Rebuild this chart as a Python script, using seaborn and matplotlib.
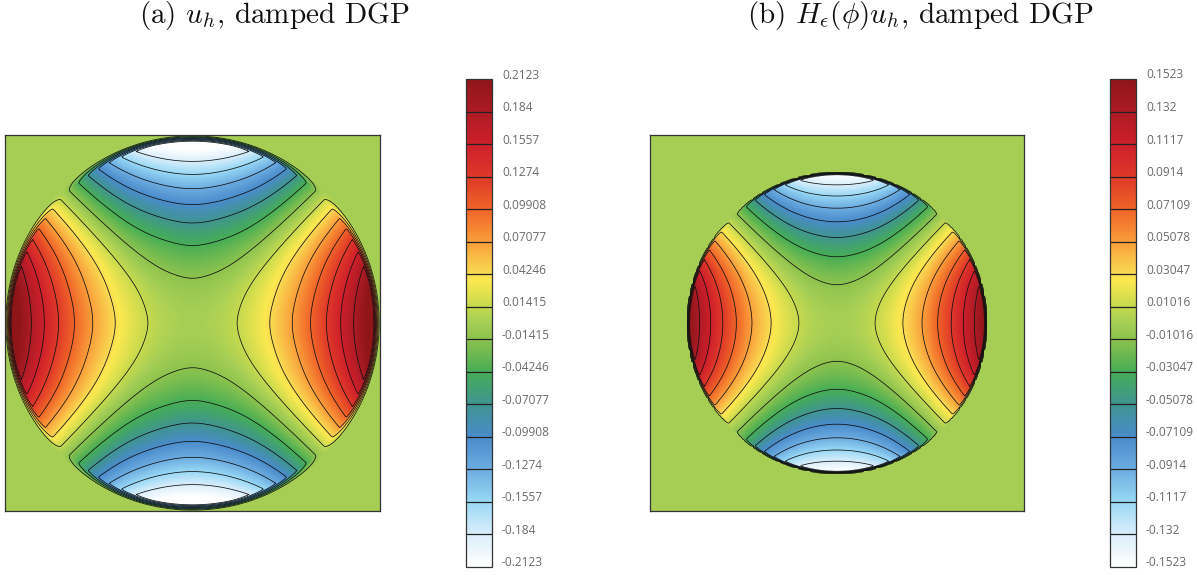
import numpy as np
import pandas as pd
import matplotlib
matplotlib.use("Agg")
import matplotlib.pyplot as plt
from matplotlib.colors import LinearSegmentedColormap
import seaborn as sns

# ---- chart text ----
title_a = r"(a) $u_h$, damped DGP"
title_b = r"(b) $H_\epsilon(\phi)u_h$, damped DGP"

# ---- colour bar labels ----
labels_a = ["0.2123", "0.184", "0.1557", "0.1274", "0.09908", "0.07077", "0.04246", "0.01415",
            "-0.01415", "-0.04246", "-0.07077", "-0.09908", "-0.1274", "-0.1557", "-0.184", "-0.2123"]
labels_b = ["0.1523", "0.132", "0.1117", "0.0914", "0.07109", "0.05078", "0.03047", "0.01016",
            "-0.01016", "-0.03047", "-0.05078", "-0.07109", "-0.0914", "-0.1117", "-0.132", "-0.1523"]

# ---- values, on rays from the centre of the disc ----
radius_fraction = [0.2, 0.4, 0.6, 0.8, 0.95]
ray_angle = [0, 10, 15, 20, 25, 30, 35, 40, 45]

a_ray_0 = [0.0099, 0.0396, 0.0891, 0.1584, 0.2234]
a_ray_10 = [0.0093, 0.0372, 0.0837, 0.1488, 0.2098]
a_ray_15 = [0.0086, 0.0342, 0.0770, 0.1370, 0.1931]
a_ray_20 = [0.0075, 0.0301, 0.0677, 0.1203, 0.1697]
a_ray_25 = [0.0063, 0.0253, 0.0569, 0.1011, 0.1426]
a_ray_30 = [0.0050, 0.0198, 0.0446, 0.0794, 0.1038]
a_ray_35 = [0.0035, 0.0141, 0.0317, 0.0563, 0.0700]
a_ray_40 = [0.0018, 0.0074, 0.0166, 0.0294, 0.0360]
a_ray_45 = [0, 0, 0, 0, 0]

b_ray_0 = [0.0063, 0.0253, 0.0569, 0.1011, 0.1426]
b_ray_10 = [0.0059, 0.0238, 0.0535, 0.0950, 0.1340]
b_ray_15 = [0.0055, 0.0219, 0.0492, 0.0875, 0.1234]
b_ray_20 = [0.0048, 0.0192, 0.0432, 0.0768, 0.1083]
b_ray_25 = [0.0040, 0.0162, 0.0364, 0.0646, 0.0912]
b_ray_30 = [0.0032, 0.0126, 0.0284, 0.0506, 0.0600]
b_ray_35 = [0.0022, 0.0086, 0.0194, 0.0346, 0.0430]
b_ray_40 = [0.0011, 0.0043, 0.0097, 0.0173, 0.0230]
b_ray_45 = [0, 0, 0, 0, 0]

rays_a = [a_ray_0, a_ray_10, a_ray_15, a_ray_20, a_ray_25, a_ray_30, a_ray_35, a_ray_40, a_ray_45]
rays_b = [b_ray_0, b_ray_10, b_ray_15, b_ray_20, b_ray_25, b_ray_30, b_ray_35, b_ray_40, b_ray_45]

# ---- colours (one anchor per colour bar step, bottom to top) ----
anchor_steps = [0, 1, 2, 3, 4, 5, 6, 7, 7.5, 8, 8.8, 9, 10, 11, 12, 13, 14, 15]
anchor_colors = ["#ffffff", "#daeefa", "#98d8f5", "#6cace0", "#4a8bcb", "#3f9490", "#46ad55",
                 "#8cc24d", "#a5ce55", "#c5d94e", "#fbe84f", "#f9dc52", "#f99e3a", "#ef6428",
                 "#df3829", "#cd1f2a", "#ad1b25", "#8f1519"]
cmap = LinearSegmentedColormap.from_list(
    "bands", [(s / 15, c) for s, c in zip(anchor_steps, anchor_colors)], N=512)

W, H = 1197, 575
plt.rcParams["mathtext.fontset"] = "cm"
fig = plt.figure(figsize=(W / 100, H / 100), dpi=100)


def px_axes(x0, y0, x1, y1):
    return fig.add_axes([x0 / W, 1 - y1 / H, (x1 - x0) / W, (y1 - y0) / H])


def basis(r, th_deg):
    """Smooth terms for a least-squares fit through the ray readings (value / r^2)."""
    t = np.radians(th_deg)
    terms = [r ** i * np.cos(m * t) for i in range(3) for m in (2, 6, 10)]
    return np.stack([np.ravel(v) for v in terms], axis=1)


def disc_field(rays, disc_px, vmax, n=376, stair_px=None, fade_from=None):
    """Smooth the ray readings and spread them over the square."""
    rays = np.array(rays, dtype=float)
    rad = np.array(radius_fraction)
    RR, AA = np.meshgrid(rad, np.array(ray_angle, dtype=float))
    ratio = rays / rad ** 2
    coef = np.linalg.lstsq(basis(RR, AA), ratio.ravel(), rcond=None)[0]

    c = (np.arange(n) + 0.5 - n / 2)
    X, Y = np.meshgrid(c, c)
    r = np.hypot(X, Y) / disc_px
    th = np.degrees(np.arctan2(Y, X))
    rq = np.clip(r, 0, 1.0)
    z = (basis(rq, th) @ coef).reshape(r.shape) * rq ** 2
    z = np.clip(z, -vmax, vmax)
    if fade_from is not None:
        z = z * np.interp(r, [fade_from, 1.0], [1.0, 0.0])
    if stair_px is not None:
        xs = (np.floor(X / stair_px) + 0.5) * stair_px
        ys = (np.floor(Y / stair_px) + 0.5) * stair_px
        inside = np.hypot(xs, ys) / disc_px <= 1.0
    else:
        inside = r <= 1.0
    return np.where(inside, z, 0.0)


def panel(field, labels, box, bar, title, title_x):
    levels = np.array([float(s) for s in labels])
    vmax = levels.max()
    ax = px_axes(*box)
    cax = px_axes(*bar)
    sns.heatmap(pd.DataFrame(field), ax=ax, cmap=cmap, vmin=-vmax, vmax=vmax,
                xticklabels=False, yticklabels=False, cbar=True, cbar_ax=cax,
                cbar_kws={"ticks": []})
    n = field.shape[0]
    px = np.arange(n) + 0.5
    inner = np.sort(levels[1:-1])
    ax.contour(px, px, field, levels=inner, colors="#101010", linewidths=0.55,
               linestyles="solid")
    for s in ax.spines.values():
        s.set_visible(True)
        s.set_linewidth(0.9)
        s.set_edgecolor("#333333")
    cb = ax.collections[0].colorbar
    cb.outline.set_linewidth(0.9)
    cb.outline.set_edgecolor("#333333")
    cax.hlines(inner, 0, 1, colors="#222222", linewidth=0.9, transform=cax.get_yaxis_transform())
    for lab, val in zip(labels, levels):
        cax.annotate(lab, xy=(1, val), xycoords=("axes fraction", "data"),
                     xytext=(10, 4), textcoords="offset pixels", va="center", ha="left",
                     family="Open Sans", fontsize=8.6, color="#6a6a6a", annotation_clip=False)
    fig.text(title_x / W, 1 - 16 / H, title, ha="center", va="center",
             family="cmr10", fontsize=21, color="#111111")


field_a = disc_field(rays_a, 187.5, 0.2123, fade_from=0.965)
field_b = disc_field(rays_b, 151, 0.1523, stair_px=3, fade_from=0.98)

panel(field_a, labels_a, (5, 135, 380, 511), (466, 79, 492, 567), title_a, 274)
panel(field_b, labels_b, (650, 135, 1024, 511), (1110, 79, 1136, 567), title_b, 920)

fig.savefig("out.png", dpi=100, facecolor="white")
